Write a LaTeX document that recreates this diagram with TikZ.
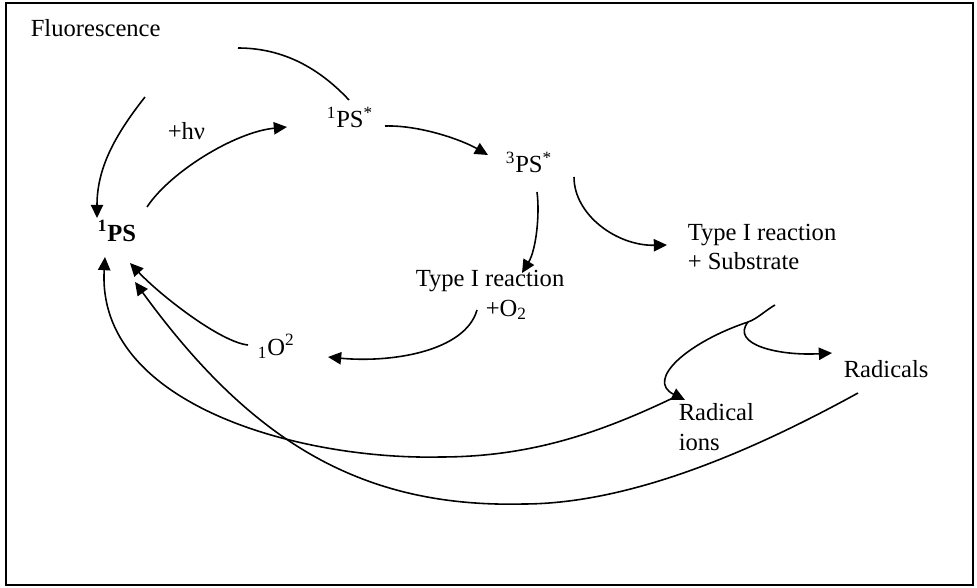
\documentclass[tikz,border=0pt]{standalone}
\usepackage{fontspec}
\setmainfont{Liberation Serif}
\usetikzlibrary{arrows.meta}

\begin{document}
\begin{tikzpicture}[x=0.02cm, y=-0.02cm, line width=0.9pt,
  >={Triangle[length=7.5pt,width=7pt]},
  font=\fontsize{14}{17}\selectfont,
  lbl/.style={inner sep=0pt, anchor=base west},
  blk/.style={inner sep=0pt, anchor=north west, align=left}]

  \useasboundingbox (0,0) rectangle (977,588);
  \draw[line width=1.3pt] (6,3) rectangle (973,585);

  \node[lbl] (fluo) at (30,37) {Fluorescence};
  \node[lbl] (gs) at (97,241) {\textbf{\textsuperscript{1}PS}};
  \node[lbl] (hv) at (167,139) {+hν};
  \node[lbl] (s1) at (326,128) {\textsuperscript{1}PS\textsuperscript{*}};
  \node[lbl] (t1) at (505,173) {\textsuperscript{3}PS\textsuperscript{*}};
  \node[lbl] (ty1) at (415,286) {Type I reaction};
  \node[lbl] (ox) at (485,316) {+O\textsubscript{2}};
  \node[lbl] (so) at (257,355) {\textsubscript{1}O\textsuperscript{2}};
  \node[blk] (ty2) at (687,223) {Type I reaction\\+ Substrate};
  \node[lbl] (rad) at (843,377) {Radicals};
  \node[blk] (ions) at (678,403) {Radical\\ions};

  \coordinate (fl-a) at (238,48);
  \coordinate (fl-b) at (145,97);
  \coordinate (split) at (748,322);
  \coordinate (ions-low) at (440,457);
  \coordinate (rad-low) at (523,504);

  % fluorescence
  \draw ([shift={(23,-28)}]s1.base west) .. controls +(-30,-32) and +(45,0) .. (fl-a);
  \draw[->] (fl-b) .. controls +(-30,38) and +(0,-50) .. ([shift={(0,-23)}]gs.base west);

  % excitation and crossing
  \draw[->] ([shift={(50,-34)}]gs.base west) .. controls +(23,-35) and +(-52,5) .. ([shift={(-39,-1)}]s1.base west);
  \draw[->] ([shift={(59,-2)}]s1.base west) .. controls +(35,-1) and +(-26,-15) .. ([shift={(-17,-18)}]t1.base west);
  \draw[->] ([shift={(32,19)}]t1.base west) .. controls +(3,23) and +(14,-23) .. ([shift={(107,-13)}]ty1.base west);
  \draw[->] ([shift={(69,4)}]t1.base west) .. controls +(0,38) and +(-50,1) .. ([shift={(-20,22)}]ty2.north west);

  % oxygen
  \draw[->] ([shift={(-8,-6)}]ox.base west) .. controls +(-12,42) and +(62,6) .. ([shift={(71,2)}]so.base west);
  \draw[->] ([shift={(-9,-10)}]so.base west) .. controls +(-28,-3) and +(30,32) .. ([shift={(33,22)}]gs.base west);

  % substrate
  \draw ([shift={(88,82)}]ty2.north west) .. controls +(-9,5) and +(9,-3) .. (split);
  \draw[->] (split) .. controls +(-60,20) and +(-40,-20) .. ([shift={(7,-3)}]ions.north west);
  \draw[->] (split) .. controls +(-18,23) and +(-52,3) .. ([shift={(-11,-24)}]rad.base west);

  % back to ground state
  \draw[->] ([shift={(-3,-6)}]ions.north west) .. controls +(-75,36) and +(90,0) .. (ions-low)
    .. controls +(-140,3) and +(-9,148) .. ([shift={(8,16)}]gs.base west);
  \draw[->] ([shift={(15,16)}]rad.base west) .. controls +(-100,55) and +(110,0) .. (rad-low)
    .. controls +(-163,4) and +(115,158) .. ([shift={(38,41)}]gs.base west);

\end{tikzpicture}
\end{document}
